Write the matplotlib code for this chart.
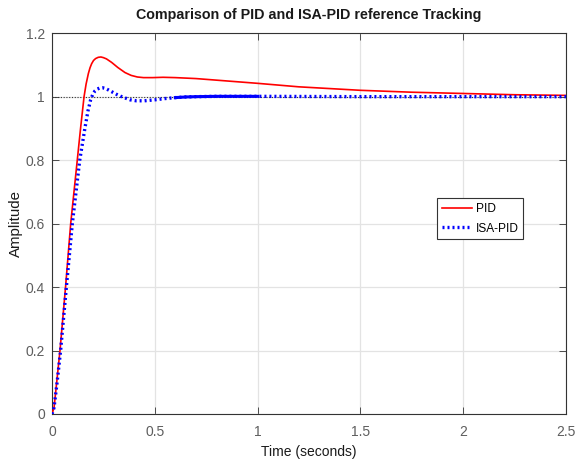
import numpy as np
import matplotlib.pyplot as plt

plt.rcParams['font.family'] = ['Liberation Sans', 'DejaVu Sans']

# ---- data read from the step responses ----
t_pid = [0, 0.01, 0.023, 0.039, 0.066, 0.091, 0.123, 0.139, 0.156, 0.166, 0.177,
         0.185, 0.193, 0.202, 0.212, 0.225, 0.238, 0.25, 0.265, 0.29, 0.32, 0.355,
         0.385, 0.415, 0.445, 0.49, 0.54, 0.60, 0.70, 0.80, 0.90, 1.00, 1.20,
         1.50, 1.75, 2.00, 2.25, 2.50]
y_pid = [0, 0.02, 0.10, 0.20, 0.40, 0.60, 0.80, 0.90, 1.00, 1.040, 1.073,
         1.091, 1.104, 1.114, 1.120, 1.124, 1.125, 1.123, 1.119, 1.108, 1.092, 1.076,
         1.067, 1.062, 1.060, 1.060, 1.061, 1.060, 1.057, 1.052, 1.047, 1.042, 1.031,
         1.020, 1.014, 1.010, 1.006, 1.004]

t_isa = [0, 0.01, 0.025, 0.042, 0.070, 0.099, 0.135, 0.160, 0.175, 0.188, 0.199,
         0.209, 0.22, 0.232, 0.246, 0.26, 0.275, 0.295, 0.315, 0.335, 0.355, 0.38,
         0.41, 0.45, 0.50, 0.55, 0.60, 0.65, 0.70, 0.80, 0.90, 1.00, 1.50, 2.00, 2.50]
y_isa = [0, 0.02, 0.10, 0.20, 0.40, 0.60, 0.80, 0.90, 0.955, 0.990, 1.008,
         1.018, 1.024, 1.027, 1.028, 1.026, 1.021, 1.014, 1.007, 1.001, 0.996, 0.990,
         0.987, 0.987, 0.990, 0.994, 0.997, 0.999, 1.000, 1.001, 1.001, 1.001,
         1.000, 1.000, 1.000]

t_isa = np.array(t_isa)
y_isa = np.array(y_isa)

fig = plt.figure(figsize=(5.75, 4.61), dpi=100)
ax = fig.add_axes([0.0904, 0.102, 0.894, 0.826])

# steady-state reference
ax.axhline(1.0, color='#333333', lw=0.8, ls=(0, (1, 1.5)), zorder=1)

ax.plot(t_pid, y_pid, color='red', lw=1.2, label='PID', zorder=3)
ax.plot(t_isa, y_isa, color='blue', lw=2.4, ls=(0, (0.6, 0.9)), label='ISA-PID', zorder=4)
dense = (t_isa >= 0.6) & (t_isa <= 1.0)
ax.plot(t_isa[dense], y_isa[dense], color='blue', lw=2.2, zorder=4)

ax.set_xlim(0, 2.5)
ax.set_ylim(0, 1.2)
ax.set_xticks([0, 0.5, 1, 1.5, 2, 2.5])
ax.set_xticklabels(['0', '0.5', '1', '1.5', '2', '2.5'])
ax.set_yticks([0, 0.2, 0.4, 0.6, 0.8, 1, 1.2])
ax.set_yticklabels(['0', '0.2', '0.4', '0.6', '0.8', '1', '1.2'])

ax.grid(True, color='#e3e3e3', lw=0.9)
ax.set_axisbelow(True)
for s in ax.spines.values():
    s.set_color('#333333')
    s.set_linewidth(0.8)
ax.tick_params(direction='in', length=5, width=0.6, colors='#333333',
               labelcolor='#5e5e5e', labelsize=10, top=True, right=True)
ax.tick_params(axis='x', pad=8)
ax.tick_params(axis='y', pad=5)

ax.set_xlabel('Time (seconds)', fontsize=10, color='#1a1a1a', labelpad=4)
ax.set_ylabel('Amplitude', fontsize=10.8, color='#1a1a1a')
ax.yaxis.set_label_coords(-0.057, 0.5)
ax.set_title('Comparison of PID and ISA-PID reference Tracking',
             fontsize=10.3, fontweight='bold', color='#1a1a1a', pad=10)

leg = ax.legend(loc='upper left', bbox_to_anchor=(0.7496, 0.567), fontsize=8.6,
                frameon=True, fancybox=False, framealpha=1, edgecolor='#333333',
                handlelength=2.5, borderpad=0.4, labelspacing=0.65, handletextpad=0.3,
                borderaxespad=0)
leg.get_frame().set_linewidth(0.8)

fig.savefig('out.png', dpi=100)
